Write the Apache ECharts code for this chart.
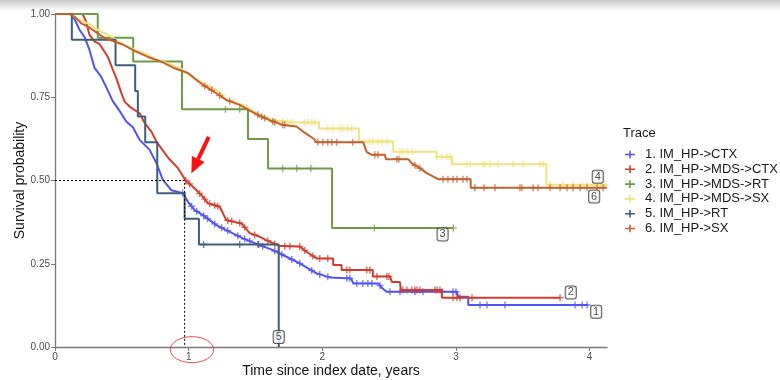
<!DOCTYPE html>
<html><head><meta charset="utf-8">
<script src="https://cdn.jsdelivr.net/npm/echarts@6/dist/echarts.min.js"></script>
<style>html,body{margin:0;padding:0;background:#fff}#c{width:780px;height:380px}</style>
</head><body><div id="c"></div><script>
// ---- data (time in years, survival probability) ----
const xTicks = [0, 1, 2, 3, 4];
const yTicks = [0, 0.25, 0.5, 0.75, 1];
const traceNames = ['1. IM_HP->CTX', '2. IM_HP->MDS->CTX', '3. IM_HP->MDS->RT', '4. IM_HP->MDS->SX', '5. IM_HP->RT', '6. IM_HP->SX'];
const traceColors = ['#5252f4', '#d23c2c', '#6e9c44', '#f1e27c', '#3e5f79', '#c3612e'];

const curve1 = [[0,1],[0.115,1],[0.146,0.985],[0.184,0.952],[0.221,0.931],[0.258,0.892],[0.296,0.838],[0.346,0.811],[0.393,0.772],[0.431,0.739],[0.483,0.709],[0.533,0.677],[0.583,0.660],[0.633,0.622],[0.708,0.592],[0.758,0.553],[0.807,0.502],[0.870,0.471],[0.957,0.462],[0.995,0.436],[1.045,0.411],[1.107,0.396],[1.207,0.366],[1.307,0.346],[1.407,0.326],[1.532,0.306],[1.631,0.291],[1.732,0.271],[1.831,0.251],[1.957,0.221],[2.056,0.209],[2.216,0.206],[2.231,0.191],[2.418,0.191],[2.443,0.179],[2.481,0.166],[3.005,0.166],[3.017,0.151],[3.092,0.151],[3.092,0.126],[3.989,0.126]];
const curve2 = [[0,1],[0.206,1],[0.234,0.976],[0.258,0.937],[0.296,0.917],[0.333,0.910],[0.396,0.871],[0.433,0.832],[0.458,0.808],[0.496,0.763],[0.521,0.737],[0.558,0.722],[0.633,0.702],[0.670,0.673],[0.721,0.647],[0.760,0.616],[0.845,0.569],[0.920,0.537],[0.978,0.500],[1.032,0.481],[1.095,0.456],[1.145,0.432],[1.232,0.421],[1.282,0.381],[1.395,0.371],[1.457,0.342],[1.532,0.331],[1.607,0.316],[1.682,0.303],[1.831,0.302],[1.882,0.286],[1.957,0.266],[2.081,0.266],[2.081,0.246],[2.144,0.246],[2.144,0.231],[2.378,0.231],[2.378,0.212],[2.506,0.212],[2.521,0.195],[2.581,0.195],[2.588,0.171],[2.895,0.171],[2.895,0.148],[3.779,0.148]];
const curve3 = [[0,1],[0.32,1],[0.32,0.929],[0.585,0.929],[0.585,0.857],[0.95,0.857],[0.95,0.714],[1.444,0.714],[1.444,0.625],[1.594,0.625],[1.594,0.536],[2.073,0.536],[2.073,0.357],[2.98,0.357]];
const curve4 = [[0,1],[0.109,1],[0.171,0.985],[0.246,0.972],[0.296,0.958],[0.346,0.947],[0.421,0.932],[0.496,0.912],[0.596,0.892],[0.683,0.880],[0.745,0.865],[0.845,0.852],[0.945,0.835],[1.020,0.812],[1.070,0.797],[1.133,0.787],[1.207,0.772],[1.282,0.742],[1.407,0.727],[1.457,0.715],[1.532,0.697],[1.631,0.682],[1.781,0.674],[1.976,0.674],[1.976,0.656],[2.273,0.656],[2.273,0.617],[2.530,0.617],[2.530,0.586],[2.854,0.586],[2.854,0.571],[2.970,0.571],[2.970,0.549],[3.676,0.549],[3.676,0.487],[4.129,0.487]];
const curve5 = [[0,1],[0.126,1],[0.126,0.923],[0.453,0.923],[0.453,0.846],[0.600,0.846],[0.600,0.769],[0.620,0.769],[0.620,0.692],[0.675,0.692],[0.675,0.615],[0.765,0.615],[0.765,0.462],[0.970,0.462],[0.970,0.385],[1.077,0.385],[1.077,0.308],[1.674,0.308],[1.674,0]];
const curve6 = [[0,1],[0.109,1],[0.146,0.992],[0.196,0.972],[0.246,0.962],[0.321,0.942],[0.371,0.928],[0.496,0.910],[0.596,0.889],[0.695,0.871],[0.796,0.857],[0.895,0.837],[0.995,0.823],[1.070,0.799],[1.120,0.784],[1.207,0.762],[1.282,0.742],[1.382,0.727],[1.457,0.710],[1.532,0.694],[1.631,0.677],[1.706,0.667],[1.807,0.662],[1.856,0.647],[1.931,0.627],[1.957,0.615],[2.306,0.615],[2.331,0.586],[2.369,0.577],[2.468,0.577],[2.476,0.564],[2.643,0.564],[2.668,0.552],[2.730,0.537],[2.781,0.522],[2.867,0.504],[3.110,0.504],[3.110,0.478],[4.129,0.478]];

// censoring times
const cens1 = [0.955,1.022,1.060,1.112,1.142,1.195,1.247,1.292,1.367,1.419,1.457,1.517,1.554,1.644,1.697,1.772,1.831,1.921,1.981,2.041,2.184,2.206,2.258,2.303,2.341,2.371,2.431,2.506,2.581,2.693,2.753,2.895,2.978,3.000,3.180,3.232,3.367,3.891,3.944,3.981];
const cens2 = [0.978,1.007,1.082,1.120,1.157,1.195,1.217,1.292,1.322,1.382,1.419,1.494,1.592,1.644,1.719,1.757,1.831,1.869,1.929,1.981,2.041,2.184,2.206,2.333,2.356,2.409,2.483,2.498,2.603,2.633,2.670,2.693,2.708,2.730,2.843,2.858,2.880,2.978,3.007,3.030,3.120,3.779];
const cens3 = [1.275,1.382,1.704,1.809,1.914,2.39,2.98];
const cens4 = [1.082,1.157,1.247,1.345,1.704,1.742,1.772,1.869,1.891,1.921,1.944,2.041,2.079,2.131,2.154,2.191,2.221,2.318,2.356,2.378,2.416,2.446,2.483,2.581,2.603,2.640,2.670,2.858,2.895,2.933,2.955,3.082,3.105,3.202,3.217,3.255,3.315,3.427,3.502,3.629,3.652,3.704,3.801,3.876,3.944,3.981,4.026,4.079,4.116];
const cens5 = [1.112,1.382,1.524];
const cens6 = [1.120,1.172,1.232,1.307,1.517,1.547,1.569,1.629,1.644,1.704,1.719,1.966,2.004,2.041,2.071,2.109,2.228,2.393,2.416,2.558,2.573,2.693,2.730,2.903,2.940,2.978,3.007,3.052,3.082,3.142,3.210,3.292,3.479,3.494,3.577,3.614,3.704,3.779,3.831,3.876,3.929,3.981,4.056,4.101];

const labelTexts = ['1', '2', '3', '4', '5', '6'];
const labelPos = [[4.049,0.106],[3.859,0.164],[2.900,0.338],[4.061,0.511],[1.674,0.030],[4.034,0.452]];
const medianTime = 0.97, medianSurv = 0.5;
const arrowTail = [1.150, 0.631], arrowTip = [1.020, 0.521];
const circleCenter = [1.025, -0.008];

const curves = [curve1, curve2, curve3, curve4, curve5, curve6];
const cens = [cens1, cens2, cens3, cens4, cens5, cens6];

function survAt(c, t) {
  for (let i = 0; i < c.length - 1; i++) {
    const a = c[i], b = c[i + 1];
    if (t >= a[0] && t < b[0]) return a[1] + (b[1] - a[1]) * (t - a[0]) / (b[0] - a[0]);
  }
  return c[c.length - 1][1];
}

const plusPath = 'path://M4,0h2v4h4v2h-4v4h-2v-4h-4v-2h4z';
const series = [];
curves.forEach((c, i) => {
  series.push({
    name: traceNames[i], type: 'line', data: c, showSymbol: false, silent: true,
    lineStyle: { width: 2, color: traceColors[i] }, itemStyle: { color: traceColors[i] },
    z: 2 + i * 2, animation: false
  });
  series.push({
    name: 'cens' + i, type: 'scatter', data: cens[i].map(t => [t, survAt(c, t)]),
    symbol: plusPath, symbolSize: 7, silent: true,
    itemStyle: { color: traceColors[i], opacity: 0.75 }, z: 3 + i * 2, animation: false
  });
});
series.push({
  name: 'median', type: 'line', silent: true, showSymbol: false, animation: false, z: 20,
  data: [[0, medianSurv], [medianTime, medianSurv], [medianTime, 0]],
  lineStyle: { color: '#000', width: 1, type: [2, 2] }
});
series.push({
  name: 'labels', type: 'scatter', silent: true, animation: false, z: 30, symbolSize: 1,
  itemStyle: { color: 'rgba(0,0,0,0)' },
  data: labelPos.map((p, i) => ({ value: p, name: labelTexts[i] })),
  label: {
    show: true, position: 'inside', formatter: p => p.name, fontSize: 11, color: '#222',
    fontFamily: 'Liberation Sans, Arial, sans-serif',
    backgroundColor: '#fff', borderColor: '#333', borderWidth: 1, borderRadius: 2, padding: [1, 2, 0, 2]
  }
});

const legendIcon = 'path://M0,3h10v1.6h-10z M4.2,0h1.6v7.6h-1.6z';
const chart = echarts.init(document.getElementById('c'), null, { renderer: 'canvas' });
chart.setOption({
  animation: false,
  backgroundColor: '#fff',
  textStyle: { fontFamily: 'Liberation Sans, Arial, sans-serif' },
  grid: { left: 55, right: 173, top: 14, bottom: 33, containLabel: false, outerBoundsMode: 'none' },
  legend: {
    data: traceNames, orient: 'vertical', left: 620, top: 143, itemWidth: 10, itemHeight: 7.6,
    itemGap: 1.8, icon: legendIcon, selectedMode: false,
    textStyle: { fontSize: 13, lineHeight: 13, color: '#1a1a1a', padding: [0, 0, 0, 5] }
  },
  xAxis: {
    type: 'value', min: 0, max: 4.13, interval: 1,
    name: 'Time since index date, years', nameLocation: 'middle', nameGap: 17, nameMoveOverlap: false,
    nameTextStyle: { fontSize: 14, color: '#111' },
    axisLine: { lineStyle: { color: '#7a7a7a', width: 1.3 } },
    axisTick: { show: true, length: 4, customValues: xTicks, lineStyle: { color: '#7a7a7a' } },
    axisLabel: { customValues: xTicks, fontSize: 10, color: '#4d4d4d', margin: 5 },
    splitLine: { show: false }
  },
  yAxis: {
    type: 'value', min: 0, max: 1, interval: 0.25,
    name: 'Survival probability', nameLocation: 'middle', nameGap: 28, nameMoveOverlap: false,
    nameTextStyle: { fontSize: 14, color: '#111' },
    axisLine: { show: true, lineStyle: { color: '#7a7a7a', width: 1.3 } },
    axisTick: { show: true, length: 4, customValues: yTicks, lineStyle: { color: '#7a7a7a' } },
    axisLabel: { customValues: yTicks, fontSize: 10, color: '#4d4d4d', margin: 5, formatter: v => v.toFixed(2) },
    splitLine: { show: false }
  },
  series: series
});

// annotations placed through the axes
const P = v => chart.convertToPixel({ xAxisIndex: 0, yAxisIndex: 0 }, v);
const T = P(arrowTail), H = P(arrowTip);
const dx = H[0] - T[0], dy = H[1] - T[1], L = Math.hypot(dx, dy);
const ux = dx / L, uy = dy / L, nx = -uy, ny = ux;
const headLen = 16, headW = 7;
const B = [H[0] - headLen * ux, H[1] - headLen * uy];
const C = P(circleCenter);
chart.setOption({
  graphic: [
    { type: 'rect', left: 0, top: 0, z: 100, silent: true, shape: { width: 780, height: 11 },
      style: { fill: new echarts.graphic.LinearGradient(0, 0, 0, 1, [{ offset: 0, color: 'rgba(0,0,0,0.22)' }, { offset: 1, color: 'rgba(0,0,0,0)' }]) } },
    { type: 'text', left: 623, top: 127, style: { text: 'Trace', fontSize: 13, fill: '#1a1a1a', fontFamily: 'Liberation Sans, Arial, sans-serif' } },
    { type: 'line', z: 50, silent: true, shape: { x1: T[0], y1: T[1], x2: B[0], y2: B[1] }, style: { stroke: '#ff1010', lineWidth: 4 } },
    { type: 'polygon', z: 50, silent: true, shape: { points: [H, [B[0] + headW * nx, B[1] + headW * ny], [B[0] - headW * nx, B[1] - headW * ny]] }, style: { fill: '#ff1010' } },
    { type: 'circle', z: 50, silent: true, x: C[0], y: C[1], scaleY: 13 / 21.7, shape: { cx: 0, cy: 0, r: 21.7 }, style: { fill: 'none', stroke: '#e82020', lineWidth: 1, strokeNoScale: true } }
  ]
});
</script></body></html>
